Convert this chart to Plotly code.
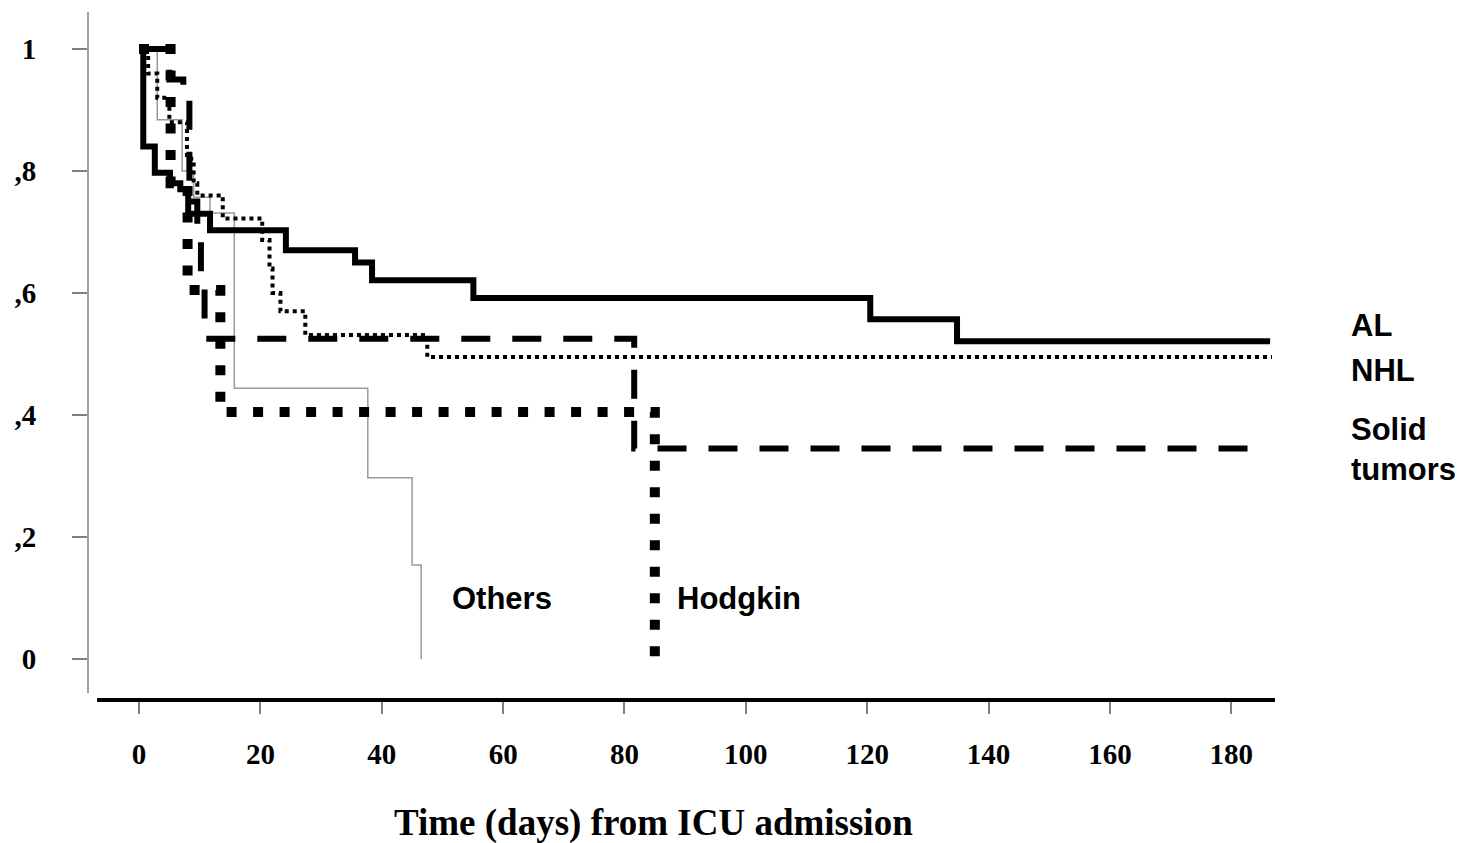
import plotly.graph_objects as go

# Kaplan-Meier step data (time in days, survival proportion)
al_t = [0, 0.7, 2.6, 5.1, 6.8, 8.1, 11.7, 24.2, 35.6, 38.4, 55.1, 120.5, 134.8, 186.4]
al_s = [1, 0.84, 0.797, 0.78, 0.77, 0.73, 0.703, 0.67, 0.65, 0.621, 0.592, 0.557, 0.521, 0.521]

nhl_t = [0, 1.5, 3.0, 5.0, 7.9, 9.0, 9.6, 13.8, 20.3, 21.5, 22.0, 23.3, 27.4, 47.5, 186.7]
nhl_s = [1, 0.96, 0.92, 0.88, 0.82, 0.78, 0.76, 0.722, 0.687, 0.64, 0.60, 0.57, 0.531, 0.495, 0.495]

solid_t = [0, 5.0, 7.3, 8.3, 9.6, 10.2, 10.8, 81.6, 185.0]
solid_s = [1, 0.95, 0.92, 0.75, 0.69, 0.61, 0.525, 0.345, 0.345]

hodg_t = [0, 5.2, 8.0, 13.4, 85.0]
hodg_s = [1, 0.78, 0.605, 0.405, 0.0]

oth_t = [0, 3.0, 7.1, 9.0, 11.7, 15.7, 37.7, 45.0, 46.5]
oth_s = [1, 0.884, 0.80, 0.757, 0.731, 0.444, 0.297, 0.154, 0.0]

x_ticks = [0, 20, 40, 60, 80, 100, 120, 140, 160, 180]
y_ticks = [0, 0.2, 0.4, 0.6, 0.8, 1.0]
y_ticktext = ["0", ",2", ",4", ",6", ",8", "1"]

fig = go.Figure()
fig.add_trace(go.Scatter(x=oth_t, y=oth_s, mode="lines", line_shape="hv",
                         line=dict(color="#9a9a9a", width=1.5), name="Others"))
fig.add_trace(go.Scatter(x=hodg_t, y=hodg_s, mode="lines", line_shape="hv",
                         line=dict(color="black", width=10, dash="10px,16.5px"), name="Hodgkin"))
fig.add_trace(go.Scatter(x=solid_t, y=solid_s, mode="lines", line_shape="hv",
                         line=dict(color="black", width=6, dash="29px,22px"), name="Solid tumors"))
fig.add_trace(go.Scatter(x=nhl_t, y=nhl_s, mode="lines", line_shape="hv",
                         line=dict(color="black", width=4, dash="4px,4px"), name="NHL"))
fig.add_trace(go.Scatter(x=al_t, y=al_s, mode="lines", line_shape="hv",
                         line=dict(color="black", width=6), name="AL"))

serif = "Liberation Serif, Times New Roman, serif"
sans = "Liberation Sans, Arial, sans-serif"

fig.update_layout(
    width=1464, height=843,
    margin=dict(l=88, r=189, t=12, b=143),
    paper_bgcolor="white", plot_bgcolor="white",
    showlegend=False,
    xaxis=dict(range=[-8.41, 187.2], tickvals=x_ticks, ticks="outside", ticklen=13,
               tickwidth=1.5, tickcolor="#808080", showline=False, showgrid=False,
               zeroline=False, ticklabelstandoff=15,
               tickfont=dict(family=serif, size=29, color="black", weight="bold")),
    yaxis=dict(range=[-0.0672, 1.0607], tickvals=y_ticks, ticktext=y_ticktext,
               ticks="outside", ticklen=15, tickwidth=1.5, tickcolor="#808080",
               showline=False, showgrid=False, zeroline=False, ticklabelstandoff=30,
               tickfont=dict(family=serif, size=29, color="black", weight="bold")),
)

# axis lines
fig.add_shape(type="line", xref="paper", yref="y", x0=0, x1=0, y0=-0.0557, y1=1.0607,
              line=dict(color="#808080", width=1.5))
fig.add_shape(type="line", xref="x", yref="paper", x0=-6.92, x1=187.2, y0=0, y1=0,
              line=dict(color="black", width=4))

# x-axis title
fig.add_annotation(text="<b>Time (days) from ICU admission</b>", xref="paper", yref="paper",
                   x=(653 - 88) / 1187, y=(700 - 823) / 688, xanchor="center", yanchor="middle",
                   showarrow=False, font=dict(family=serif, size=37, color="black"))

# curve labels
lab_font = dict(family=sans, size=31, color="black")
lx = (1349 - 88) / 1187
fig.add_annotation(text="<b>AL</b>", xref="paper", yref="y", x=lx, y=0.5475,
                   xanchor="left", yanchor="middle", showarrow=False, font=lab_font)
fig.add_annotation(text="<b>NHL</b>", xref="paper", yref="y", x=lx, y=0.4738,
                   xanchor="left", yanchor="middle", showarrow=False, font=lab_font)
fig.add_annotation(text="<b>Solid<br>tumors</b>", xref="paper", yref="y", x=lx,
                   y=0.343, xanchor="left", yanchor="middle", align="left", showarrow=False,
                   font=lab_font)
fig.add_annotation(text="<b>Others</b>", xref="x", yref="y", x=(450 - 139) / 6.067, y=0.1,
                   xanchor="left", yanchor="middle", showarrow=False, font=lab_font)
fig.add_annotation(text="<b>Hodgkin</b>", xref="x", yref="y", x=(675 - 139) / 6.067, y=0.1,
                   xanchor="left", yanchor="middle", showarrow=False, font=lab_font)

fig.write_html("out.html")
